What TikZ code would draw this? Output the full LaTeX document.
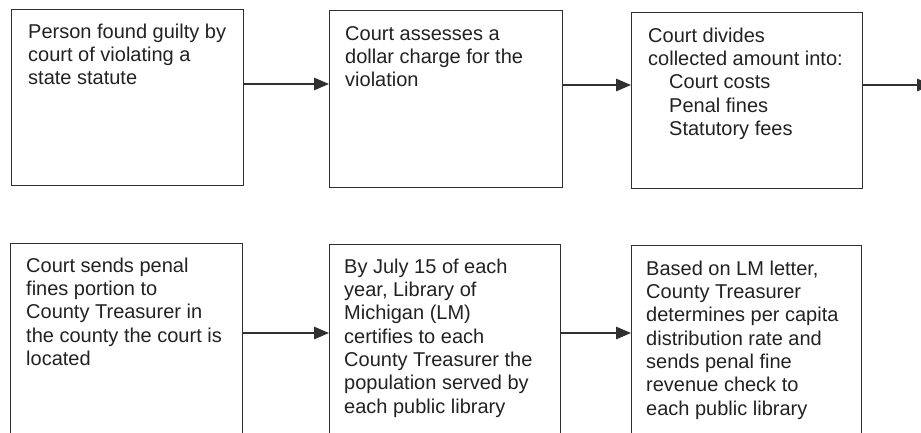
\documentclass[tikz,border=0pt]{standalone}
\usepackage{fontspec}
\setmainfont{Liberation Sans}
\usetikzlibrary{arrows.meta}
\definecolor{ink}{HTML}{222222}
\definecolor{edge}{HTML}{303030}
\tikzset{
  stepbox/.style={draw=edge, line width=1.4pt, anchor=north west, inner sep=0pt, minimum width=232pt},
  toprow/.style={stepbox, minimum height=176pt},
  botrow/.style={stepbox, minimum height=230pt},
  txt/.style={anchor=north west, inner sep=0pt, align=left, text=ink,
    font=\fontsize{20pt}{23.3pt}\selectfont},
  arr/.style={draw=edge, line width=1.4pt, -{Triangle[length=15pt,width=12.5pt]}}
}
\newcommand{\fl}{\rule{0pt}{15pt}}
\begin{document}
\begin{tikzpicture}[x=1pt,y=-1pt]
\useasboundingbox (0,0) rectangle (921,433);
\clip (0,0) rectangle (921,433);
\fill[white] (0,0) rectangle (921,433);
% top row
\node[toprow] (b1) at (11,9) {};
\node[toprow, minimum width=233pt, minimum height=177pt] (b2) at (329,10) {};
\node[toprow, minimum width=231pt] (b3) at (631,12) {};
\node[txt] (t1) at (28,23) {\fl Person found guilty by\\court of violating a\\state statute};
\node[txt] (t2) at (345,25) {\fl Court assesses a\\dollar charge for the\\violation};
\node[txt] (t3) at (648,27) {\fl Court divides\\collected amount into:\\\hspace{21pt}Court costs\\\hspace{21pt}Penal fines\\\hspace{21pt}Statutory fees};
% bottom row
\node[botrow] (b4) at (10,243) {};
\node[botrow, minimum width=231pt] (b5) at (329,244) {};
\node[botrow, minimum width=230pt] (b6) at (631,245) {};
\node[txt] (t4) at (26,257) {\fl Court sends penal\\fines portion to\\County Treasurer in\\the county the court is\\located};
\node[txt] (t5) at (344,258) {\fl By July 15 of each\\year, Library of\\Michigan (LM)\\certifies to each\\County Treasurer the\\population served by\\each public library};
\node[txt] (t6) at (646,260) {\fl Based on LM letter,\\County Treasurer\\determines per capita\\distribution rate and\\sends penal fine\\revenue check to\\each public library};
% connectors
\coordinate (out) at (932,85);
\draw[arr] (b1.east |- 0,84) -- (b2.west |- 0,84);
\draw[arr] (b2.east |- 0,85) -- (b3.west |- 0,85);
\draw[arr] (b3.east |- 0,85) -- (out);
\draw[arr] (b4.east |- 0,333) -- (b5.west |- 0,333);
\draw[arr] (b5.east |- 0,333) -- (b6.west |- 0,333);
\end{tikzpicture}
\end{document}
